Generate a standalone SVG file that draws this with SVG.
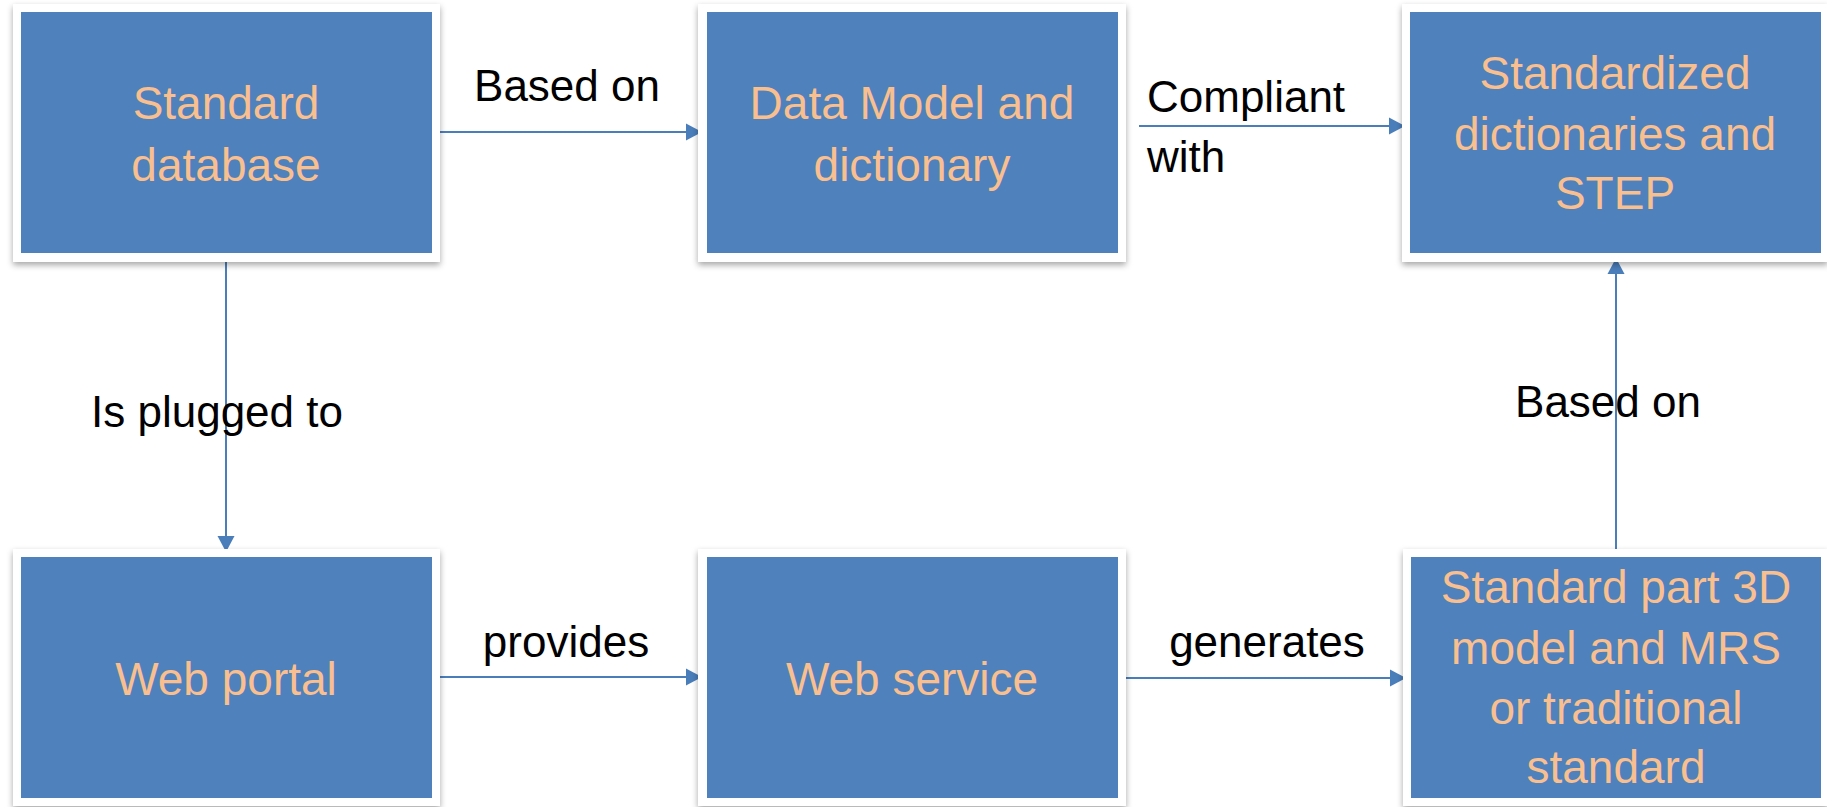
<svg xmlns="http://www.w3.org/2000/svg" width="1827" height="807" viewBox="0 0 1827 807">
  <style>
    .frame { fill: #ffffff; filter: url(#shadow); }
    .box { fill: #4F81BD; }
    .boxtext { font-family: "Liberation Sans", Arial, sans-serif; font-size: 46px; fill: #FABF8F; text-anchor: middle; }
    .label { font-family: "Liberation Sans", Arial, sans-serif; font-size: 44px; fill: #000000; }
    .conn { stroke: #4A7EBB; stroke-width: 2; fill: none; }
    .head { fill: #4A7EBB; }
  </style>
  <defs>
    <filter id="shadow" x="-5%" y="-5%" width="110%" height="115%">
      <feDropShadow dx="0" dy="3" stdDeviation="3" flood-color="#000000" flood-opacity="0.35"/>
    </filter>
    <!-- arrowhead with its tip at the origin, pointing along +x -->
    <path id="head" class="head" d="M0,0 L-16,-8.5 L-16,8.5 Z"/>
  </defs>

  <rect width="1827" height="807" fill="#ffffff"/>

  <!-- connectors and their labels -->
  <g id="connectors">
    <line class="conn" x1="436" y1="132" x2="690" y2="132"/>
    <use href="#head" transform="translate(702,132)"/>

    <line class="conn" x1="1139" y1="126" x2="1393" y2="126"/>
    <use href="#head" transform="translate(1405,126)"/>

    <line class="conn" x1="226" y1="257" x2="226" y2="540"/>
    <use href="#head" transform="translate(226,552) rotate(90)"/>

    <line class="conn" x1="436" y1="677" x2="690" y2="677"/>
    <use href="#head" transform="translate(702,677)"/>

    <line class="conn" x1="1122" y1="678" x2="1394" y2="678"/>
    <use href="#head" transform="translate(1406,678)"/>

    <line class="conn" x1="1616" y1="552" x2="1616" y2="270"/>
    <use href="#head" transform="translate(1616,258) rotate(-90)"/>

    <text class="label" x="567" y="101" text-anchor="middle">Based on</text>
    <text class="label" x="1147" y="112">Compliant</text>
    <text class="label" x="1147" y="172">with</text>
    <text class="label" x="217" y="427" text-anchor="middle">Is plugged to</text>
    <text class="label" x="1608" y="417" text-anchor="middle">Based on</text>
    <text class="label" x="566" y="657" text-anchor="middle">provides</text>
    <text class="label" x="1267" y="657" text-anchor="middle">generates</text>
  </g>

  <g id="standard-database">
    <rect class="frame" x="13" y="4" width="427" height="258"/>
    <rect class="box" x="21" y="12" width="411" height="241"/>
    <text class="boxtext" x="226" y="119">Standard</text>
    <text class="boxtext" x="226" y="181">database</text>
  </g>

  <g id="data-model">
    <rect class="frame" x="698" y="4" width="428" height="258"/>
    <rect class="box" x="707" y="12" width="411" height="241"/>
    <text class="boxtext" x="912" y="119">Data Model and</text>
    <text class="boxtext" x="912" y="181">dictionary</text>
  </g>

  <g id="standardized-dictionaries">
    <rect class="frame" x="1402" y="4" width="426" height="258"/>
    <rect class="box" x="1410" y="12" width="411" height="241"/>
    <text class="boxtext" x="1615" y="89">Standardized</text>
    <text class="boxtext" x="1615" y="150">dictionaries and</text>
    <text class="boxtext" x="1615" y="209">STEP</text>
  </g>

  <g id="web-portal">
    <rect class="frame" x="13" y="549" width="427" height="257"/>
    <rect class="box" x="21" y="557" width="411" height="241"/>
    <text class="boxtext" x="226" y="695">Web portal</text>
  </g>

  <g id="web-service">
    <rect class="frame" x="698" y="549" width="428" height="257"/>
    <rect class="box" x="707" y="557" width="411" height="241"/>
    <text class="boxtext" x="912" y="695">Web service</text>
  </g>

  <g id="standard-part">
    <rect class="frame" x="1403" y="549" width="425" height="257"/>
    <rect class="box" x="1411" y="557" width="410" height="241"/>
    <text class="boxtext" x="1616" y="603">Standard part 3D</text>
    <text class="boxtext" x="1616" y="664">model and MRS</text>
    <text class="boxtext" x="1616" y="724">or traditional</text>
    <text class="boxtext" x="1616" y="783">standard</text>
  </g>
</svg>
